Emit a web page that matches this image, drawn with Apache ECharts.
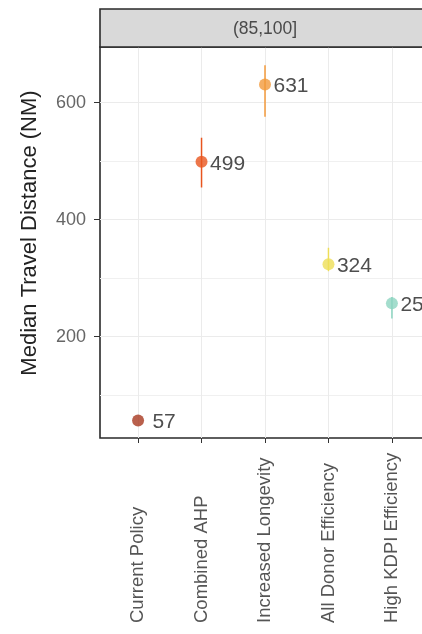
<!DOCTYPE html>
<html>
<head>
<meta charset="utf-8">
<script src="https://cdn.jsdelivr.net/npm/echarts@6/dist/echarts.min.js"></script>
<style>
  html, body { margin: 0; padding: 0; background: #fff; overflow: hidden; }
  #chart { width: 440px; height: 634px; }
</style>
</head>
<body>
<div id="chart"></div>
<script>
// Policy scenarios in the (85,100] panel
const categories = ['Current Policy', 'Combined AHP', 'Increased Longevity', 'All Donor Efficiency', 'High KDPI Efficiency'];
const medianDistance = [57, 499, 631, 324, 257];
const lowerBound = [57, 455, 576, 312, 231];
const upperBound = [57, 540, 664, 352, 268];
const pointColors = ['#A8381F', '#E8551E', '#F39A3B', '#EEDE57', '#8DD5C1'];
const yMajorTicks = [200, 400, 600];
const yMinorTicks = [100, 300, 500];
const panelTitle = '(85,100]';
const yTitle = 'Median Travel Distance (NM)';

const FONT = '"Liberation Sans", Arial, sans-serif';
const positions = categories.map((c, i) => i + 1);

const pointData = medianDistance.map((v, i) => ({
  value: [positions[i], v],
  itemStyle: { color: pointColors[i] }
}));
const rangeData = lowerBound.map((lo, i) => [positions[i], lo, upperBound[i]]);

const chart = echarts.init(document.getElementById('chart'), null, { renderer: 'canvas' });

const gridLeft = 100, gridTop = 47, gridWidth = 330, gridBottomY = 438;
const labelBaseY = 623;

chart.setOption({
  backgroundColor: '#ffffff',
  animation: false,
  textStyle: { fontFamily: FONT },
  grid: {
    left: gridLeft, top: gridTop, width: gridWidth, height: gridBottomY - gridTop,
    show: true, borderColor: '#2a2a2a', borderWidth: 1.6, backgroundColor: 'transparent'
  },
  graphic: [
    {
      // facet strip
      type: 'rect', z: 10,
      shape: { x: gridLeft, y: 9, width: gridWidth, height: gridTop - 9 },
      style: { fill: '#D9D9D9', stroke: '#2a2a2a', lineWidth: 1.6 }
    },
    {
      type: 'text', z: 11,
      x: gridLeft + gridWidth / 2, y: (9 + gridTop) / 2 + 1,
      style: { text: panelTitle, font: '17.5px ' + FONT, fill: '#4a4a4a', align: 'center', verticalAlign: 'middle' }
    },
    {
      // y-axis title
      type: 'text', z: 11,
      x: 30, y: 233, rotation: Math.PI / 2,
      style: { text: yTitle, font: '22px ' + FONT, fill: '#222', align: 'center', verticalAlign: 'middle' }
    }
  ],
  xAxis: {
    type: 'value', min: 0.4, max: 5.6,
    axisLine: { show: false },
    axisTick: { show: true, length: 5, lineStyle: { color: '#333', width: 1 }, customValues: positions },
    axisLabel: {
      rotate: 90, align: 'left', margin: labelBaseY - gridBottomY,
      fontSize: 18.5, color: '#555', fontFamily: FONT,
      customValues: positions,
      formatter: v => categories[Math.round(v) - 1] || ''
    },
    splitLine: { show: true, lineStyle: { color: '#EBEBEB', width: 1 } }
  },
  yAxis: [
    {
      type: 'value', min: 27, max: 695,
      axisLine: { show: false },
      axisTick: { show: true, length: 6, lineStyle: { color: '#333' }, customValues: yMajorTicks },
      axisLabel: { fontSize: 18, color: '#666', margin: 14, fontFamily: FONT, customValues: yMajorTicks },
      splitLine: { show: true, lineStyle: { color: '#EBEBEB', width: 1 } }
    },
    {
      type: 'value', min: 27, max: 695, position: 'left',
      axisLine: { show: false },
      axisTick: { show: false, customValues: yMinorTicks },
      axisLabel: { show: false, customValues: yMinorTicks },
      splitLine: { show: true, lineStyle: { color: '#F0F0F0', width: 1 } }
    }
  ],
  series: [
    {
      type: 'custom',
      yAxisIndex: 0,
      data: rangeData,
      z: 2,
      renderItem: function (params, api) {
        const x = api.value(0);
        const top = api.coord([x, api.value(2)]);
        const bottom = api.coord([x, api.value(1)]);
        return {
          type: 'line',
          shape: { x1: top[0], y1: top[1], x2: bottom[0], y2: bottom[1] },
          style: { stroke: pointColors[params.dataIndex], lineWidth: 1.5 }
        };
      }
    },
    {
      type: 'scatter',
      yAxisIndex: 0,
      data: pointData,
      symbol: 'circle',
      symbolSize: 12,
      z: 3,
      label: {
        show: true, position: 'inside', offset: [26, 2],
        fontSize: 21, color: '#222', fontFamily: FONT,
        formatter: p => String(p.value[1])
      }
    }
  ]
});
</script>
</body>
</html>
